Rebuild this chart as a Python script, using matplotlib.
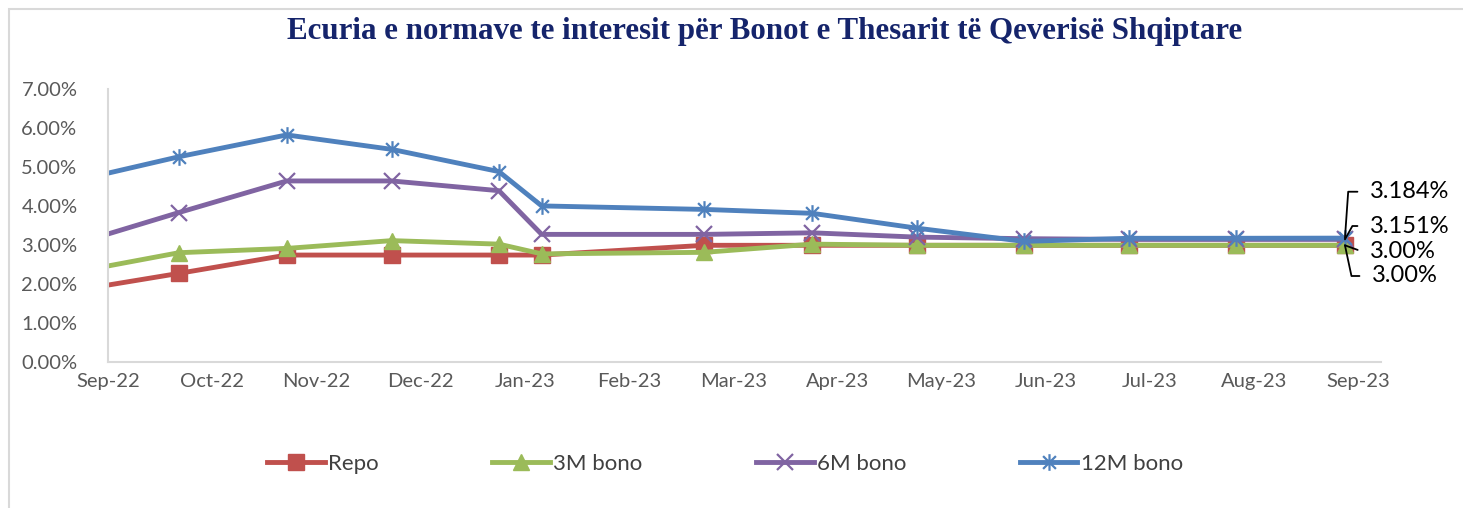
import matplotlib.pyplot as plt
from matplotlib.path import Path
from matplotlib.patches import Rectangle
from matplotlib.ticker import FuncFormatter

plt.rcParams['font.family'] = ['Lato', 'DejaVu Sans']

# x positions in months since Sep-22
x_pos = [0, 0.68, 1.715, 2.723, 3.752, 4.162, 5.723, 6.759, 7.761, 8.791, 9.798, 10.825, 11.871]
month_labels = ['Sep-22', 'Oct-22', 'Nov-22', 'Dec-22', 'Jan-23', 'Feb-23', 'Mar-23',
                'Apr-23', 'May-23', 'Jun-23', 'Jul-23', 'Aug-23', 'Sep-23']

repo = [1.98, 2.28, 2.75, 2.75, 2.75, 2.75, 3.0, 3.0, 3.0, 3.0, 3.0, 3.0, 3.0]
bono_3m = [2.47, 2.81, 2.92, 3.12, 3.03, 2.78, 2.82, 3.03, 3.0, 3.0, 3.0, 3.0, 3.0]
bono_6m = [3.29, 3.84, 4.65, 4.65, 4.40, 3.28, 3.28, 3.32, 3.21, 3.17, 3.15, 3.15, 3.151]
bono_12m = [4.85, 5.27, 5.83, 5.46, 4.89, 4.01, 3.92, 3.82, 3.44, 3.10, 3.18, 3.18, 3.184]

last_labels = ['3.00%', '3.00%', '3.151%', '3.184%']

# excel style asterisk marker
M, L = Path.MOVETO, Path.LINETO
star = Path([(-1, -1), (1, 1), (-1, 1), (1, -1), (0, -1.3), (0, 1.3)], [M, L, M, L, M, L])

fig = plt.figure(figsize=(14.63, 5.08), dpi=100)
ax = fig.add_axes([108/1463, 145.7/508, 1273/1463, 273/508])

mk = slice(1, None)
ax.plot(x_pos, repo, color='#C0504D', lw=3.5, marker='s', ms=12, markevery=mk, label='Repo')
ax.plot(x_pos, bono_3m, color='#9BBB59', lw=3.5, marker='^', ms=12, markevery=mk, label='3M bono')
ax.plot(x_pos, bono_6m, color='#8064A2', lw=3.5, marker='x', ms=12, mew=1.6, markevery=mk, label='6M bono')
ax.plot(x_pos, bono_12m, color='#4F81BD', lw=3.5, marker=star, ms=12, mew=1.6, mfc='none',
        markevery=mk, label='12M bono')

ax.set_xlim(0, 12.217)
ax.set_ylim(0, 7)
ax.set_xticks(range(len(month_labels)))
ax.set_xticklabels(month_labels)
ax.set_yticks(range(8))
ax.yaxis.set_major_formatter(FuncFormatter(lambda v, p: '%.2f%%' % v))
ax.tick_params(length=0, labelsize=14.5, colors='#595959')
ax.tick_params(axis='x', pad=8)
ax.tick_params(axis='y', pad=22)
for s in ['top', 'right']:
    ax.spines[s].set_visible(False)
for s in ['left', 'bottom']:
    ax.spines[s].set_color('#D9D9D9')
    ax.spines[s].set_linewidth(1.5)

# data labels on the last points
series = [repo, bono_3m, bono_6m, bono_12m]
offsets = [(27, -30.7), (25, -6.7), (25, 13.4), (25, 46.4)]
angles = [-78, -20, 61, 86]
for s, lab, off, ang in zip(series, last_labels, offsets, angles):
    ax.annotate(lab, xy=(x_pos[-1], s[-1]), xytext=off, textcoords='offset pixels',
                ha='left', va='center', fontsize=17, color='black', annotation_clip=False,
                arrowprops=dict(arrowstyle='-', color='black', lw=1.3, shrinkA=7, shrinkB=0,
                                relpos=(0, 0.5),
                                connectionstyle='angle,angleA=0,angleB=%d,rad=0' % ang))

fig.text(765/1463, 476/508, 'Ecuria e normave te interesit për Bonot e Thesarit të Qeverisë Shqiptare',
         ha='center', va='center', fontsize=22.3, fontweight='bold', color='#15246B',
         family='Liberation Serif')

fig.legend(loc='center', bbox_to_anchor=(725/1463, 44/508), ncol=4, frameon=False,
           fontsize=16, handlelength=2.6, handletextpad=0.15, columnspacing=5.1,
           labelcolor='#404040')

fig.add_artist(Rectangle((9/1463, -0.05), 1.2, (508-9)/508 + 0.05, transform=fig.transFigure,
                         fill=False, edgecolor='#D9D9D9', lw=1.5))

fig.savefig('out.png', dpi=100)
